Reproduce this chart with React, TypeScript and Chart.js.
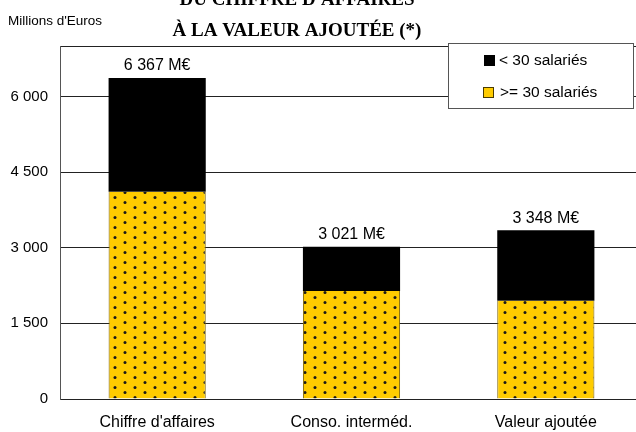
import React, { useEffect, useRef } from "react";
import { Chart, registerables } from "chart.js";

Chart.register(...registerables);

const categories = ["Chiffre d'affaires", "Conso. interméd.", "Valeur ajoutée"];
const over30 = [4110, 2140, 1950];
const under30 = [2257, 881, 1398];
const seriesLabels = ["< 30 salariés", ">= 30 salariés"];
const titleLines = ["DU CHIFFRE D'AFFAIRES", "À LA VALEUR AJOUTÉE (*)"];
const unitLabel = "Millions d'Euros";
const yTickValues = [0, 1500, 3000, 4500, 6000];
const yMax = 7000;

const SANS = "'Liberation Sans', Arial, sans-serif";
const SERIF = "'Liberation Serif', 'Times New Roman', serif";
const YELLOW = "#FFCC00";

const fmt = (n: number) =>
  Math.round(n).toString().replace(/\B(?=(\d{3})+(?!\d))/g, " ");

function makePattern(): CanvasPattern | string {
  const c = document.createElement("canvas");
  c.width = 20;
  c.height = 10;
  const ctx = c.getContext("2d");
  if (!ctx) return YELLOW;
  ctx.fillStyle = YELLOW;
  ctx.fillRect(0, 0, 20, 10);
  ctx.fillStyle = "#1a1a1a";
  [[5, 2.5], [15, 7.5]].forEach(([x, y]) => {
    ctx.beginPath();
    ctx.arc(x, y, 1.5, 0, Math.PI * 2);
    ctx.fill();
  });
  return ctx.createPattern(c, "repeat") || YELLOW;
}

const decorPlugin = {
  id: "decor",
  afterDatasetsDraw(chart: any) {
    const ctx = chart.ctx;
    const meta = chart.getDatasetMeta(1);
    ctx.save();
    ctx.fillStyle = "#000";
    ctx.font = `16px ${SANS}`;
    ctx.textAlign = "center";
    ctx.textBaseline = "bottom";
    meta.data.forEach((bar: any, i: number) => {
      const total = over30[i] + under30[i];
      ctx.fillText(`${fmt(total)} M€`, bar.x, bar.y - 4);
    });
    ctx.restore();
  },
  afterDraw(chart: any) {
    const ctx = chart.ctx;
    ctx.save();
    ctx.fillStyle = "#000";
    ctx.font = `bold 19px ${SERIF}`;
    ctx.textAlign = "center";
    ctx.textBaseline = "alphabetic";
    ctx.fillText(titleLines[0], 297, 5);
    ctx.fillText(titleLines[1], 297, 36);
    ctx.font = `13.5px ${SANS}`;
    ctx.textAlign = "left";
    ctx.fillText(unitLabel, 8, 25);
    const lx = 448.5, ly = 43.5, lw = 185, lh = 65;
    ctx.fillStyle = "#fff";
    ctx.fillRect(lx, ly, lw, lh);
    ctx.strokeStyle = "#555";
    ctx.lineWidth = 1;
    ctx.strokeRect(lx, ly, lw, lh);
    ctx.fillStyle = "#000";
    ctx.fillRect(484, 55, 11, 11);
    ctx.fillStyle = YELLOW;
    ctx.fillRect(483, 87, 10, 10);
    ctx.strokeStyle = "#4a3c00";
    ctx.strokeRect(483.5, 87.5, 10, 10);
    ctx.fillStyle = "#000";
    ctx.font = `15.5px ${SANS}`;
    ctx.textBaseline = "middle";
    ctx.fillText(seriesLabels[0], 499, 61);
    ctx.fillText(seriesLabels[1], 500, 93);
    ctx.restore();
  },
};

export default function App() {
  const ref = useRef<HTMLCanvasElement>(null);
  useEffect(() => {
    if (!ref.current) return;
    const pattern = makePattern();
    const chart = new Chart(ref.current, {
      type: "bar",
      data: {
        labels: categories,
        datasets: [
          {
            label: seriesLabels[1],
            data: over30,
            backgroundColor: pattern as any,
            borderColor: "#7a6000",
            borderWidth: { left: 1, right: 1, top: 0, bottom: 0 },
            borderSkipped: false,
            categoryPercentage: 0.5,
            barPercentage: 1,
          },
          {
            label: seriesLabels[0],
            data: under30,
            backgroundColor: "#000",
            borderWidth: 0,
            categoryPercentage: 0.5,
            barPercentage: 1,
          },
        ],
      },
      options: {
        animation: false,
        responsive: false,
        devicePixelRatio: 1,
        layout: { padding: { top: 46, right: 17, left: 0, bottom: 0 } },
        plugins: {
          legend: { display: false },
          tooltip: { enabled: false },
          title: { display: false },
        },
        scales: {
          x: {
            stacked: true,
            grid: { display: false },
            border: { display: false },
            ticks: {
              color: "#000",
              font: { family: SANS, size: 16 },
              padding: 6,
              maxRotation: 0,
            },
            afterFit: (s: any) => {
              s.height = 33;
            },
          },
          y: {
            stacked: true,
            min: 0,
            max: yMax,
            grid: { color: "#222", lineWidth: 1, drawTicks: false },
            border: { color: "#555", width: 1 },
            afterBuildTicks: (s: any) => {
              s.ticks = [...yTickValues, yMax].map((v) => ({ value: v }));
            },
            ticks: {
              color: "#000",
              font: { family: SANS, size: 15 },
              padding: 12,
              callback: (v: any) => (yTickValues.includes(Number(v)) ? fmt(Number(v)) : ""),
            },
            afterFit: (s: any) => {
              s.width = 60;
            },
          },
        },
      },
      plugins: [decorPlugin],
    });
    return () => chart.destroy();
  }, []);
  return (
    <div
      style={{
        position: "fixed",
        left: 0,
        top: 0,
        width: 636,
        height: 432,
        overflow: "hidden",
        background: "#fff",
      }}
    >
      <canvas ref={ref} width={660} height={432} style={{ display: "block" }} />
    </div>
  );
}
